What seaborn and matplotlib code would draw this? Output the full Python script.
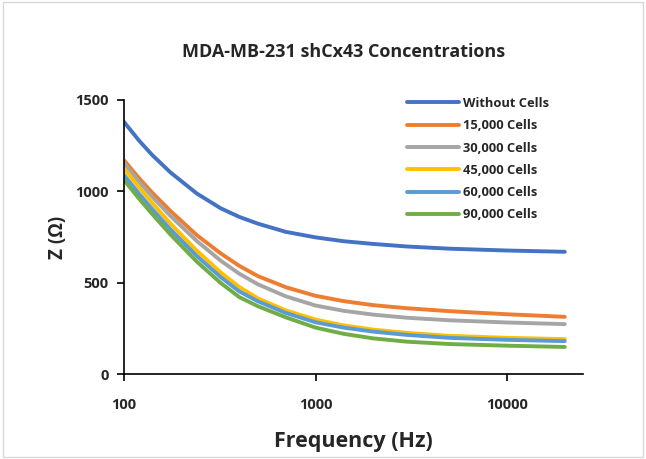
import matplotlib
matplotlib.use("Agg")
import matplotlib.pyplot as plt
import seaborn as sns
import pandas as pd
from matplotlib.patches import Rectangle

freq = [100, 120, 140, 175, 240, 320, 400, 500, 700, 1000, 1400, 2000, 3000, 5000, 10000, 20000]
without_cells = [1380, 1277, 1200, 1103, 988, 907, 860, 823, 778, 748, 727, 712, 698, 686, 676, 669]
cells_15000 = [1170, 1071, 994, 892, 760, 660, 592, 536, 475, 428, 399, 377, 360, 344, 327, 313]
cells_30000 = [1155, 1052, 972, 865, 728, 620, 549, 491, 425, 375, 346, 325, 308, 294, 282, 273]
cells_45000 = [1125, 1022, 938, 823, 675, 556, 476, 414, 348, 298, 266, 243, 225, 209, 198, 191]
cells_60000 = [1089, 986, 904, 791, 646, 530, 452, 398, 334, 283, 254, 232, 214, 198, 187, 180]
cells_90000 = [1062, 959, 877, 763, 615, 498, 421, 371, 310, 254, 220, 195, 177, 164, 155, 148]

series_names = ["Without Cells", "15,000 Cells", "30,000 Cells",
                "45,000 Cells", "60,000 Cells", "90,000 Cells"]
series_values = [without_cells, cells_15000, cells_30000,
                 cells_45000, cells_60000, cells_90000]
colors = ["#4472C4", "#ED7D31", "#A5A5A5", "#FFC000", "#5B9BD5", "#70AD47"]

rows = []
for name, vals in zip(series_names, series_values):
    for f, v in zip(freq, vals):
        rows.append({"Frequency": f, "Z": v, "Series": name})
df = pd.DataFrame(rows)

sns.set_theme(style="white")
plt.rcParams['font.family'] = ['Open Sans', 'DejaVu Sans']

fig = plt.figure(figsize=(6.46, 4.59), dpi=100)
ax = fig.add_axes([124/646, 1-374/459, (583-124)/646, (374-100)/459])

sns.lineplot(data=df, x="Frequency", y="Z", hue="Series", hue_order=series_names,
             palette=colors, linewidth=2.8, ax=ax, sort=True, estimator=None)

ax.set_xscale("log")
ax.set_xlim(100, 24900)
ax.set_ylim(0, 1500)
ax.set_yticks([0, 500, 1000, 1500])
ax.set_xticks([100, 1000, 10000])
ax.set_xticklabels(["100", "1000", "10000"])
ax.xaxis.set_minor_locator(matplotlib.ticker.NullLocator())

for s in ["top", "right"]:
    ax.spines[s].set_visible(False)
for s in ["left", "bottom"]:
    ax.spines[s].set_color("black")
    ax.spines[s].set_linewidth(1.2)

ax.tick_params(axis="both", which="major", direction="out", length=5, width=1.2,
               color="black", labelsize=10.5, pad=6, left=True, bottom=True)
for lbl in ax.get_xticklabels() + ax.get_yticklabels():
    lbl.set_fontweight("bold")
ax.tick_params(axis="x", pad=12)

ax.set_xlabel("Frequency (Hz)", fontsize=15.5, fontweight="bold", labelpad=14)
ax.set_ylabel("Z (Ω)", fontsize=13.5, fontweight="bold", labelpad=5)
fig.text(0.532, 1-52/459, "MDA-MB-231 shCx43 Concentrations", ha="center", va="center",
         fontsize=13, fontweight="bold")

leg = ax.legend(loc="upper left", bbox_to_anchor=((402-124)/(583-124), 1.03),
                frameon=False, fontsize=9.3, handlelength=4.0, handletextpad=0.3,
                labelspacing=0.72, borderaxespad=0)
for t in leg.get_texts():
    t.set_fontweight("bold")
for line in leg.get_lines():
    line.set_linewidth(2.8)

fig.patches.append(Rectangle((0.004, 0.004), 0.992, 0.992, transform=fig.transFigure,
                             fill=False, edgecolor="#D9D9D9", linewidth=1))

fig.savefig("out.png", dpi=100)
